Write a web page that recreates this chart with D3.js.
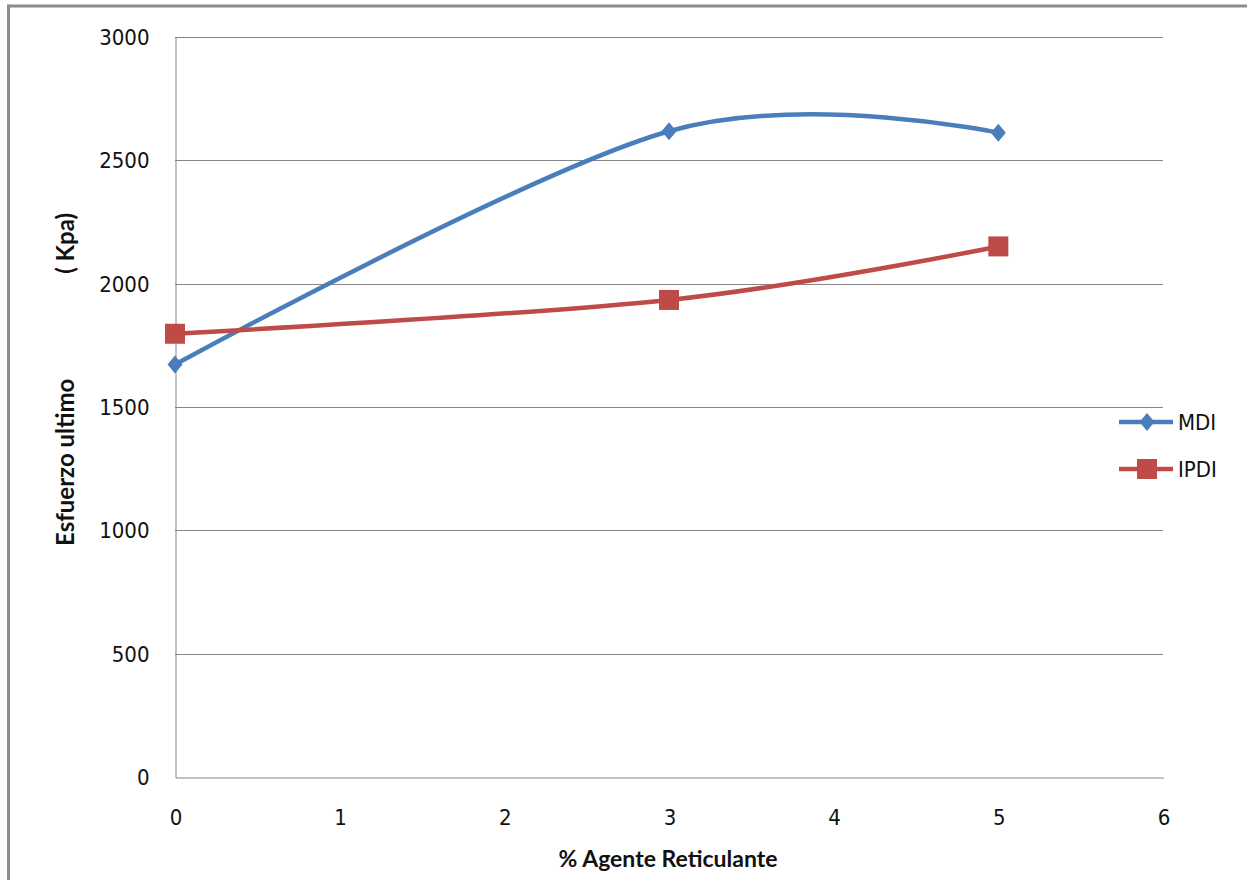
<!DOCTYPE html>
<html><head><meta charset="utf-8">
<script src="https://cdn.jsdelivr.net/npm/d3@7"></script>
<style>
html,body{margin:0;padding:0;background:#fff;}
svg{display:block;}
.tick text{font-family:"DejaVu Sans Condensed","DejaVu Sans",sans-serif;font-stretch:condensed;}
</style></head>
<body>
<svg id="chart" width="1247" height="880"></svg>
<script>
const xValues = [0, 3, 5];
const mdiValues = [1672, 2618, 2612];
const ipdiValues = [1797, 1934, 2151];
const seriesNames = ["MDI", "IPDI"];
const seriesColors = ["#4a7ebb", "#be4b48"];
const xTicks = [0, 1, 2, 3, 4, 5, 6];
const yTicks = [0, 500, 1000, 1500, 2000, 2500, 3000];
const xTitle = "% Agente Reticulante";
const yTitleParts = ["Esfuerzo ultimo", "( Kpa)"];

const svg = d3.select("#chart");
const x = d3.scaleLinear().domain([0, 6]).range([175, 1163]);
const y = d3.scaleLinear().domain([0, 3000]).range([777, 37]);

// outer frame
svg.append("line").attr("x1", 8.5).attr("x2", 1247).attr("y1", 6).attr("y2", 6)
  .attr("stroke", "#8c8c8c").attr("stroke-width", 3);
svg.append("line").attr("x1", 8.5).attr("x2", 8.5).attr("y1", 4.5).attr("y2", 880)
  .attr("stroke", "#8c8c8c").attr("stroke-width", 3);

// gridlines
svg.append("g").selectAll("line").data(yTicks.filter(d => d > 0)).join("line")
  .attr("x1", x(0)).attr("x2", x(6))
  .attr("y1", d => Math.round(y(d)) + 0.5).attr("y2", d => Math.round(y(d)) + 0.5)
  .attr("stroke", "#868686").attr("stroke-width", 1);

// axes
const yAxis = svg.append("g").attr("transform", `translate(${x(0) + 0.5},0.5)`)
  .call(d3.axisLeft(y).tickValues(yTicks).tickSize(0).tickPadding(26).tickFormat(d3.format("d")));
const xAxis = svg.append("g").attr("transform", `translate(0.5,${y(0) + 0.5})`)
  .call(d3.axisBottom(x).tickValues(xTicks).tickSize(0).tickPadding(32).tickFormat(d3.format("d")));
[yAxis, xAxis].forEach(a => {
  a.select(".domain").attr("stroke", "#868686");
  a.selectAll(".tick text").attr("font-size", 22).attr("fill", "#111");
});

// series
const curve = d3.curveCardinal.tension(0);
const series = [mdiValues, ipdiValues].map((vals, i) => ({
  name: seriesNames[i], color: seriesColors[i],
  pts: xValues.map((xv, j) => [xv, vals[j]])
}));
const line = d3.line().x(d => x(d[0])).y(d => y(d[1])).curve(curve);
series.forEach(s => {
  svg.append("path").attr("d", line(s.pts)).attr("fill", "none")
    .attr("stroke", s.color).attr("stroke-width", 4.5).attr("stroke-linecap", "round");
});

function marker(g, kind, cx, cy, color) {
  if (kind === 0) {
    g.append("path").attr("d", `M${cx},${cy - 9}L${cx + 7.5},${cy}L${cx},${cy + 9}L${cx - 7.5},${cy}Z`)
      .attr("fill", color);
  } else {
    g.append("rect").attr("x", cx - 10).attr("y", cy - 10).attr("width", 20).attr("height", 20)
      .attr("fill", color);
  }
}
const mg = svg.append("g");
series.forEach((s, i) => s.pts.forEach(p => marker(mg, i, x(p[0]), y(p[1]), s.color)));

// legend
const legY = [422, 469];
series.forEach((s, i) => {
  svg.append("line").attr("x1", 1119).attr("x2", 1173).attr("y1", legY[i]).attr("y2", legY[i])
    .attr("stroke", s.color).attr("stroke-width", 4.5);
  marker(svg, i, 1147, legY[i], s.color);
  svg.append("text").attr("x", 1178).attr("y", legY[i] + 8).text(s.name)
    .attr("font-family", "'DejaVu Sans Condensed','DejaVu Sans',sans-serif")
    .attr("font-stretch", "condensed").attr("font-size", 22).attr("fill", "#111");
});

// titles
svg.append("text").attr("x", 668).attr("y", 867).attr("text-anchor", "middle")
  .attr("font-family", "Lato, sans-serif").attr("font-weight", "bold").attr("font-size", 23)
  .attr("fill", "#111").text(xTitle);
const yt = svg.append("g").attr("transform", "translate(74,0) rotate(-90)")
  .attr("font-family", "Lato, sans-serif").attr("font-weight", "bold").attr("font-size", 24)
  .attr("fill", "#111");
yt.append("text").attr("x", -546).attr("y", 0).attr("text-anchor", "start").text(yTitleParts[0]);
yt.append("text").attr("x", -213).attr("y", 0).attr("text-anchor", "end").text(yTitleParts[1]);
</script>
</body></html>
